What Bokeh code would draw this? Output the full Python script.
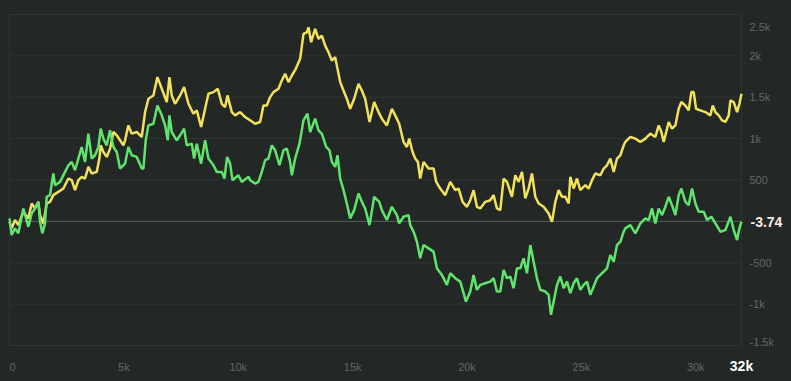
from bokeh.plotting import figure
from bokeh.models import Range1d, GlobalInlineStyleSheet
from bokeh.core.properties import value
from bokeh.embed import file_html
from bokeh.resources import INLINE

# ---------------- data ----------------
yellow_x = [0, 95, 241, 386, 605, 824, 970, 1115, 1261, 1334, 1480, 1626, 1772, 1917, 2136, 2355, 2574, 2720,
            2865, 3011, 3157, 3303, 3448, 3594, 3813, 3930, 3988, 4104, 4250, 4396, 4542, 4688, 4833, 4979,
            5052, 5198, 5344, 5562, 5781, 5927, 6073, 6291, 6466, 6656, 6875, 6991, 7093, 7239, 7458, 7633,
            7822, 8041, 8187, 8376, 8551, 8697, 8916, 9105, 9280, 9426, 9528, 9718, 9863, 10082, 10301,
            10519, 10738, 10956, 11102, 11248, 11394, 11540, 11758, 11904, 12050, 12196, 12342, 12516, 12706,
            12852, 12998, 13071, 13187, 13362, 13508, 13654, 13800, 13945, 14091, 14237, 14339, 14456, 14601,
            14747, 14893, 15068, 15258, 15403, 15549, 15739, 15943,
            16133, 16279, 16497, 16716, 16862, 17037, 17226, 17372, 17474, 17620, 17737, 17853, 17955, 18101,
            18320, 18539, 18655, 18830, 19049, 19268, 19486, 19632, 19807, 19997, 20142, 20288, 20434, 20580,
            20798, 21017, 21163, 21309, 21455,
            21601, 21747, 21965, 22111, 22257, 22403, 22549, 22694, 22840, 22986, 23132, 23350, 23569, 23715,
            23861, 24007, 24152, 24298, 24444, 24517, 24663, 24808, 24954, 25173, 25319, 25465, 25610, 25829,
            25975, 26121, 26266, 26412, 26558, 26704, 26850,
            26922, 27141, 27359, 27578, 27797, 28016, 28234, 28380, 28497, 28599, 28745, 28817, 28963, 29109,
            29255, 29371, 29546, 29692, 29809, 29911, 30013, 30203, 30421, 30640, 30742, 30859, 31004, 31150,
            31296, 31442, 31515, 31661, 31807, 31909, 32000]
yellow_y = [-5, -85, 16, -45, 116, 36, 216, 156, 236, 76, -25, 216, 236, 317, 357, 397, 518, 498,
            377, 498, 538, 518, 658, 578, 598, 759, 919, 839, 779, 879, 1080, 1040, 980, 919,
            980, 1160, 1060, 1080, 1020, 1321, 1482, 1522, 1743, 1602, 1442, 1743, 1522, 1421, 1522, 1622,
            1421, 1301, 1341, 1140, 1361, 1542, 1562, 1602, 1421, 1381, 1522, 1321, 1281, 1321, 1261,
            1221, 1180, 1201, 1401, 1401, 1502, 1562, 1602, 1703, 1783, 1683, 1763, 1843, 1964,
            2265, 2285, 2345, 2165, 2325, 2205, 2245, 2124, 2044, 1944, 1984, 1843, 1683, 1582,
            1482, 1361, 1482, 1662, 1582, 1482, 1201, 1442,
            1321, 1241, 1160, 1361, 1281, 1180, 960, 899, 1000, 839, 759, 719, 518, 719,
            638, 638, 477, 397, 317, 477, 377, 397, 236, 176, 256, 377, 176, 156,
            236, 256, 317, 156, 136,
            518, 477, 297, 558, 477, 598, 277, 397, 578, 297, 216, 176, 96, -5,
            236, 377, 297, 297, 216, 538, 397, 518, 377, 437, 397, 498, 578, 558,
            638, 678, 759, 598, 759, 799, 919,
            960, 1020, 1000, 960, 1000, 1060, 1020, 1160, 1080, 960, 1120, 1201, 1120, 1160,
            1361, 1442, 1401, 1341, 1562, 1562, 1361, 1341, 1321, 1281, 1401, 1321, 1281, 1221,
            1201, 1281, 1462, 1442, 1321, 1421, 1542]

green_x = [0, 95, 241, 386, 605, 824, 970, 1115, 1261, 1334, 1436, 1553, 1626, 1772, 1917, 1990, 2209, 2428,
           2574, 2720, 2865, 3011, 3157, 3303, 3448, 3594, 3740, 3886, 3988, 4104, 4250, 4396, 4542, 4688,
           4833, 5052, 5198, 5344, 5562, 5781, 5854, 5956, 6073, 6291, 6466, 6656, 6802, 6918, 6991, 7093,
           7312, 7458, 7633, 7749, 7968, 8070, 8187, 8376, 8551, 8697, 8916, 9062, 9280, 9397, 9513, 9645,
           9747, 10009, 10155, 10447,
           10519, 10738, 10884, 11029, 11175, 11321, 11467, 11613, 11802, 11977, 12123, 12269, 12342, 12487,
           12677, 12852, 13027, 13143, 13362, 13508, 13654, 13843, 13989, 14091, 14237, 14339, 14456, 14601,
           14747, 14893, 15068, 15258, 15403, 15549, 15739, 15943,
           16162, 16279, 16497, 16716, 16935, 17037, 17226, 17445, 17518, 17664, 17810, 17955, 18101, 18320,
           18539, 18684, 18903, 19122, 19268, 19486, 19705, 19851, 19953, 20142, 20288, 20434, 20580, 20798,
           21017, 21163, 21309, 21455,
           21601, 21747, 21892, 22038, 22184, 22330, 22476, 22621, 22767, 22913, 23059, 23205, 23423, 23569,
           23671, 23788, 23934, 24079, 24225, 24371, 24517, 24663, 24808, 24954, 25100, 25246, 25392, 25537,
           25683, 25829, 25975, 26121, 26266, 26412, 26558, 26704, 26850,
           26922, 27141, 27359, 27578, 27797, 27943, 28089, 28234, 28380, 28526, 28672, 28817, 28963, 29109,
           29255, 29371, 29546, 29692, 29838, 29984, 30130, 30349, 30494, 30684, 30859, 31077, 31296, 31515,
           31661, 31807, 31909, 32000]
green_y = [36, -165, -85, -145, 156, -65, 96, 156, 236, -5, -145, -25, 297, 317, 578, 437, 477, 598,
           678, 719, 618, 759, 899, 719, 1060, 759, 799, 899, 1120, 1000, 919, 1100, 899, 839,
           638, 698, 899, 799, 779, 638, 638, 980, 1160, 1180, 1401, 1281, 1160, 980, 1281, 1080,
           980, 1040, 1120, 919, 939, 759, 939, 698, 980, 759, 678, 598, 598, 518, 779, 698,
           498, 558, 477, 538,
           498, 457, 477, 598, 739, 759, 919, 859, 678, 859, 879, 719, 558, 759,
           939, 1221, 1301, 1080, 1241, 1100, 1060, 899, 859, 719, 658, 799, 518, 377,
           216, 36, 136, 337, 236, 156, -45, 297,
           236, 136, 16, 176, 76, -25, 56, 76, -45, -125, -246, -446, -286, -326,
           -366, -567, -647, -768, -627, -687, -728, -868, -969, -848, -647, -828, -768, -748,
           -728, -687, -848, -848,
           -587, -687, -667, -808, -567, -567, -446, -627, -286, -487, -687, -828, -848, -888,
           -1129, -969, -768, -667, -808, -728, -868, -748, -687, -828, -768, -728, -888, -788,
           -687, -647, -607, -567, -406, -487, -286, -246, -125,
           -85, -45, -145, -25, 36, 16, 156, -25, 156, 76, 176, 297, 196, 76,
           317, 397, 236, 196, 397, 216, 116, 116, 16, 56, -25, -125, -105, 56,
           -105, -226, -85, -3.74]

y_ticks = [-1500, -1000, -500, 0, 500, 1000, 1500, 2000, 2500]
y_tick_labels = ["-1.5k", "-1k", "-500", "0", "500", "1k", "1.5k", "2k", "2.5k"]
x_ticks = [0, 5000, 10000, 15000, 20000, 25000, 30000]
x_tick_labels = ["0", "5k", "10k", "15k", "20k", "25k", "30k"]
x_start, x_end = 0, 32000
x_end_label = "32k"
last_value = green_y[-1]
last_value_label = "-3.74"

# ---------------- styling / layout ----------------
BG = "#232826"
GRID = "#2f3532"
ZERO = "#575c5a"
TICK = "#62676a"
YELLOW = "#f2e15a"
GREEN = "#5fe46c"
LAST = "#fde8e6"
FONT = value("Liberation Sans")

W, H = 791, 381
# plotting rectangle inside the canvas (pixels): left, right, top, bottom
PL, PR, PT, PB = 9, 741, 14, 345
y0, y1 = y_ticks[0], y_ticks[-1]
xs = (x_end - x_start) / (PR - PL)
ys = (y1 - y0) / (PB - PT)
x_range = Range1d(x_start - PL * xs, x_end + (W - PR) * xs)
y_range = Range1d(y0 - (H - PB) * ys, y1 + PT * ys)

p = figure(width=W, height=H, output_backend="svg", toolbar_location=None,
           x_range=x_range, y_range=y_range,
           x_axis_location=None, y_axis_location=None,
           min_border_left=0, min_border_right=0, min_border_top=0, min_border_bottom=0,
           background_fill_color=BG, border_fill_color=BG, outline_line_color=None)
p.stylesheets = [GlobalInlineStyleSheet(css=f"html, body {{ background-color: {BG}; }}")]
p.grid.visible = False

# horizontal grid lines at the y ticks, spanning the plotting rectangle
grid_y = [t for t in y_ticks if t not in (0,)]
p.segment(x0=[x_start] * len(grid_y), x1=[x_end] * len(grid_y), y0=grid_y, y1=grid_y,
          line_color=GRID, line_width=1)
# frame
p.quad(left=[x_start], right=[x_end], bottom=[y0], top=[y1], fill_color=None,
       line_color=GRID, line_width=1)
# zero line
p.segment(x0=[x_start], x1=[x_end], y0=[0], y1=[0], line_color=ZERO, line_width=1)

# series
p.line(yellow_x, yellow_y, line_color=YELLOW, line_width=2.5)
p.line(green_x, green_y, line_color=GREEN, line_width=2.5)

# right tick labels (0 is replaced by the last value, edge labels are kept inside)
mid = [(t, l) for t, l in zip(y_ticks, y_tick_labels) if t not in (0, y0, y1)]
p.text(x=[x_end] * len(mid), y=[t for t, _ in mid], text=[l for _, l in mid],
       x_offset=8, text_align="left", text_baseline="middle",
       text_color=TICK, text_font=FONT, text_font_size="11px")
p.text(x=[x_end], y=[y1], text=[y_tick_labels[-1]], x_offset=8, y_offset=12.7,
       text_align="left", text_baseline="middle",
       text_color=TICK, text_font=FONT, text_font_size="11px")
p.text(x=[x_end], y=[y0], text=[y_tick_labels[0]], x_offset=8, y_offset=-3.5,
       text_align="left", text_baseline="middle",
       text_color=TICK, text_font=FONT, text_font_size="11px")
p.text(x=[x_end], y=[last_value], text=[last_value_label], x_offset=9,
       text_align="left", text_baseline="middle",
       text_color=LAST, text_font=FONT, text_font_size="14px", text_font_style="bold")

# bottom tick labels
p.text(x=x_ticks[1:], y=[y0] * (len(x_ticks) - 1), text=x_tick_labels[1:], y_offset=21,
       text_align="center", text_baseline="middle",
       text_color=TICK, text_font=FONT, text_font_size="11px")
p.text(x=[x_ticks[0]], y=[y0], text=[x_tick_labels[0]], y_offset=21,
       text_align="left", text_baseline="middle",
       text_color=TICK, text_font=FONT, text_font_size="11px")
p.text(x=[x_end], y=[y0], text=[x_end_label], y_offset=20,
       text_align="center", text_baseline="middle",
       text_color="#ffffff", text_font=FONT, text_font_size="14px", text_font_style="bold")

open("out.html", "w").write(file_html(p, INLINE))
